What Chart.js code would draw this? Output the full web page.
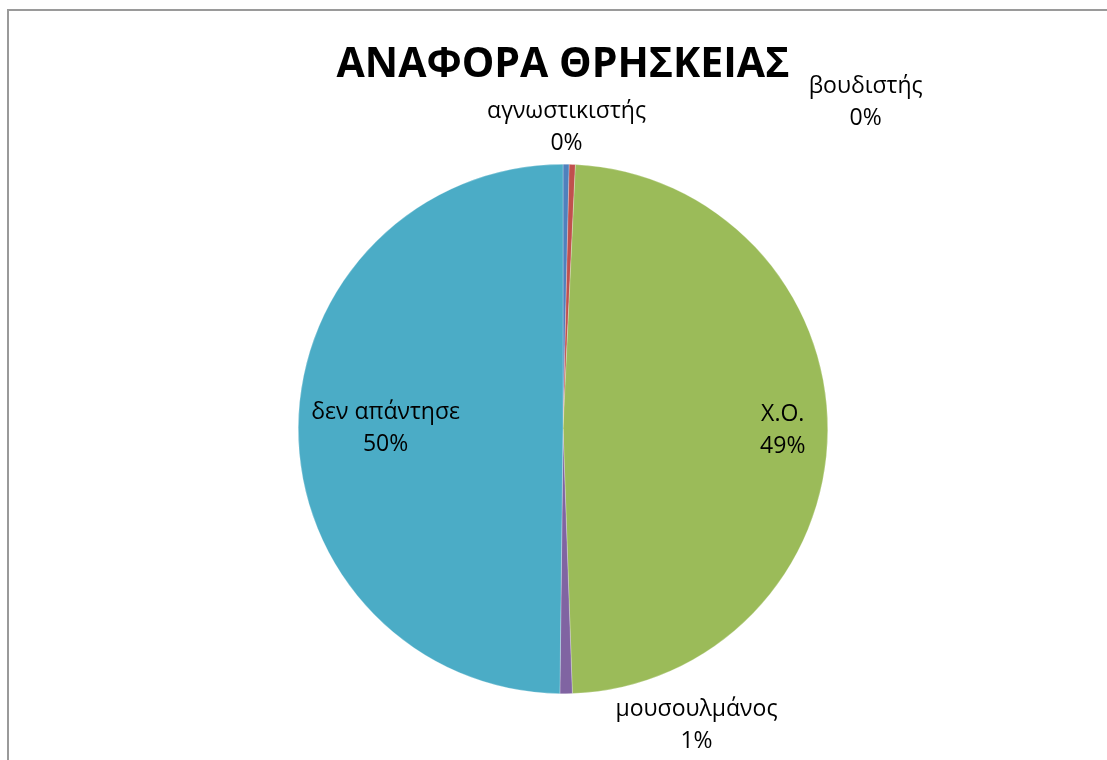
<!DOCTYPE html>
<html>
<head>
<meta charset="utf-8">
<script src="https://cdn.jsdelivr.net/npm/chart.js@4/dist/chart.umd.min.js"></script>
<style>
  html, body { margin: 0; padding: 0; background: #fff; overflow: hidden; }
  #frame {
    position: absolute; left: 7px; top: 9px;
    width: 1200px; height: 900px;
    border: 2px solid #9a9a9a; box-sizing: border-box;
  }
  #chart-container { position: absolute; left: 0; top: 0; width: 1107px; height: 760px; }
</style>
</head>
<body>
<div id="frame"></div>
<div id="chart-container"><canvas id="religion-chart"></canvas></div>
<script>
const categories = ['αγνωστικιστής', 'βουδιστής', 'Χ.Ο.', 'μουσουλμάνος', 'δεν απάντησε'];
const counts = [1, 1, 130, 2, 133];
const sliceColors = ['#4F81BD', '#C0504D', '#9BBB59', '#8064A2', '#4BACC6'];

// where each label sits: fraction of radius along the slice middle, then a pixel nudge
const labelPlacement = [
  { f: 1.14, dx: 0, dy: 0 },
  { f: 1.14, dx: 292, dy: -25 },
  { f: 0.83, dx: 0, dy: 0 },
  { f: 1.12, dx: 130, dy: 0 },
  { f: 0.67, dx: 0, dy: 0 }
];

const FONT = '"Open Sans", "Noto Sans", sans-serif';

const sliceLabels = {
  id: 'sliceLabels',
  afterDatasetsDraw(chart) {
    const ctx = chart.ctx;
    const meta = chart.getDatasetMeta(0);
    const total = counts.reduce((a, b) => a + b, 0);
    ctx.save();
    ctx.fillStyle = '#000';
    ctx.font = '23px ' + FONT;
    ctx.textAlign = 'center';
    ctx.textBaseline = 'middle';
    meta.data.forEach((arc, i) => {
      const p = arc.getProps(['x', 'y', 'startAngle', 'endAngle', 'outerRadius'], true);
      const mid = (p.startAngle + p.endAngle) / 2;
      const place = labelPlacement[i];
      const cx = p.x + Math.cos(mid) * p.outerRadius * place.f + place.dx;
      const cy = p.y + Math.sin(mid) * p.outerRadius * place.f + place.dy;
      const pct = Math.round(counts[i] / total * 100) + '%';
      ctx.fillText(categories[i], cx, cy - 16);
      ctx.fillText(pct, cx, cy + 16);
    });
    ctx.restore();
  }
};

const chartTitle = {
  id: 'chartTitle',
  afterDraw(chart) {
    const ctx = chart.ctx;
    ctx.save();
    ctx.fillStyle = '#000';
    ctx.font = 'bold 41px ' + FONT;
    ctx.textAlign = 'center';
    ctx.textBaseline = 'alphabetic';
    ctx.fillText('ΑΝΑΦΟΡΑ ΘΡΗΣΚΕΙΑΣ', 563, 77);
    ctx.restore();
  }
};

const canvasContext = document.getElementById('religion-chart').getContext('2d');
new Chart(canvasContext, {
  type: 'pie',
  data: {
    labels: categories,
    datasets: [{
      data: counts,
      backgroundColor: sliceColors,
      borderColor: 'rgba(255,255,255,0.5)',
      borderWidth: 0.5
    }]
  },
  options: {
    responsive: true,
    maintainAspectRatio: false,
    animation: false,
    layout: { padding: { left: 298, right: 279, top: 164, bottom: 66 } },
    plugins: {
      legend: { display: false },
      tooltip: { enabled: false },
      title: { display: false }
    }
  },
  plugins: [sliceLabels, chartTitle]
});
</script>
</body>
</html>
